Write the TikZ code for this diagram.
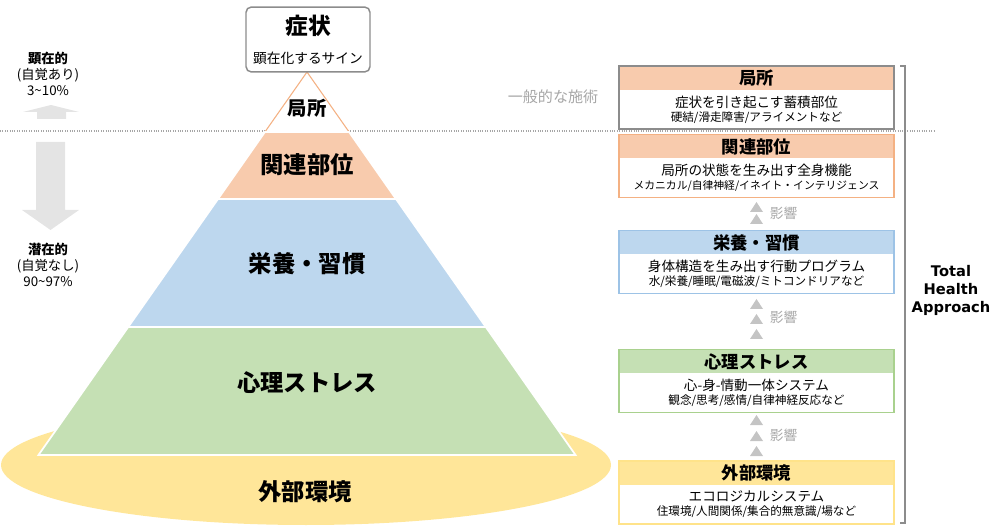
\documentclass[tikz,border=0pt]{standalone}
\usepackage{fontspec}
\setmainfont{Noto Sans CJK JP}
\newfontfamily\latinfont{DejaVu Sans}
\usetikzlibrary{positioning, shapes.geometric}
\definecolor{localFill}{HTML}{F8CBAD}
\definecolor{localLine}{HTML}{F4B183}
\definecolor{habitFill}{HTML}{BDD7EE}
\definecolor{habitLine}{HTML}{9DC3E6}
\definecolor{mindFill}{HTML}{C5E0B4}
\definecolor{mindLine}{HTML}{A9D18E}
\definecolor{envFill}{HTML}{FFE699}
\definecolor{envLine}{HTML}{FFE38A}
\definecolor{frameGray}{HTML}{8C8C8C}
\definecolor{softGray}{HTML}{A6A6A6}
\definecolor{arrowGray}{HTML}{E4E4E4}
\definecolor{triGray}{HTML}{C4C4C4}
\tikzset{
    pyrlabel/.style={font=\bfseries\fontsize{17.5}{19}\selectfont, inner sep=0pt},
    band/.style={draw=white, line width=1.3pt},
    headbox/.style={rectangle, minimum width=206pt, minimum height=17.6pt, inner sep=0pt, font=\bfseries\fontsize{13}{14}\selectfont},
    bodybox/.style={rectangle, minimum width=206pt, minimum height=28.9pt, inner sep=0pt, align=center, fill=white, font=\fontsize{10.2}{10.5}\selectfont},
    sidetext/.style={align=center, font=\fontsize{10}{12.2}\selectfont, inner sep=0pt},
    effect/.style={fill=triGray},
    effectlabel/.style={font=\fontsize{10.3}{11}\selectfont, text=softGray, inner sep=0pt},
    framebox/.style={line width=1.1pt}
}
\newcommand{\subline}[2][8.7]{{\fontsize{#1}{10.5}\selectfont #2}}
\begin{document}
\begin{tikzpicture}[x=0.75pt, y=-0.75pt]
    \useasboundingbox (0,0) rectangle (1000,527);

    % dividing line
    \draw[softGray, densely dotted, line width=0.8pt] (0,131) -- (935,131);

    % base ellipse and pyramid
    \fill[envFill] (306,465) ellipse [x radius=305, y radius=60];
    \draw[localLine, line width=0.8pt, fill=white] (307,72) -- (264.9,132) -- (349.1,132) -- cycle;
    \filldraw[band, fill=localFill] (264.9,132) -- (349.1,132) -- (396,199) -- (218,199) -- cycle;
    \filldraw[band, fill=habitFill] (218,199) -- (396,199) -- (485.8,327) -- (128.2,327) -- cycle;
    \filldraw[band, fill=mindFill] (128.2,327) -- (485.8,327) -- (575.5,455) -- (38.5,455) -- cycle;

    \node (pyrLocal) [pyrlabel, font=\bfseries\fontsize{14.5}{16}\selectfont] at (307,108) {局所};
    \node (pyrRelated) [pyrlabel] at (307,165) {関連部位};
    \node (pyrHabit) [pyrlabel] at (307,264) {栄養・習慣};
    \node (pyrMind) [pyrlabel] at (307,383) {心理ストレス};
    \node (pyrEnv) [pyrlabel] at (305,492) {外部環境};

    % symptom box
    \node (symptom) [rectangle, draw=frameGray, framebox, rounded corners=4pt, fill=white, minimum width=93pt, minimum height=48.7pt] at (308,39.5) {};
    \node (symTitle) [font=\bfseries\fontsize{17}{19}\selectfont, inner sep=0pt] at (308,26) {症状};
    \node (symSub) [font=\fontsize{10.3}{12}\selectfont, inner sep=0pt] at (308,58) {顕在化するサイン};

    % left side
    \fill[arrowGray] (37,119) -- (37,112) -- (23,112) -- (51,105) -- (79,112) -- (66,112) -- (66,119) -- cycle;
    \fill[arrowGray] (36,142) -- (65,142) -- (65,210) -- (79,210) -- (50.5,230) -- (22,210) -- (36,210) -- cycle;
    \node (overt) [sidetext] at (48,74) {\textbf{顕在的}\\(自覚あり)\\3\textasciitilde10\%};
    \node (latent) [sidetext] at (48,265) {\textbf{潜在的}\\(自覚なし)\\90\textasciitilde97\%};
    \node (general) [font=\fontsize{11.3}{13}\selectfont, text=softGray, inner sep=0pt] at (553,97) {一般的な施術};

    % right boxes
    \node (localHead) [headbox, fill=localFill] at (756.5,78) {局所};
    \node (localBody) [bodybox, below=0pt of localHead] {症状を引き起こす蓄積部位\\\subline{硬結/滑走障害/アライメントなど}};
    \draw[frameGray, framebox] (localHead.north west) rectangle (localBody.south east);

    \node (relHead) [headbox, fill=localFill] at (756.5,146.5) {関連部位};
    \node (relBody) [bodybox, below=0pt of relHead] {局所の状態を生み出す全身機能\\\subline[8.1]{メカニカル/自律神経/イネイト・インテリジェンス}};
    \draw[localLine, framebox] (relHead.north west) rectangle (relBody.south east);

    \node (habitHead) [headbox, fill=habitFill] at (756.5,242.5) {栄養・習慣};
    \node (habitBody) [bodybox, below=0pt of habitHead] {身体構造を生み出す行動プログラム\\\subline{水/栄養/睡眠/電磁波/ミトコンドリアなど}};
    \draw[habitLine, framebox] (habitHead.north west) rectangle (habitBody.south east);

    \node (mindHead) [headbox, fill=mindFill] at (756.5,361.5) {心理ストレス};
    \node (mindBody) [bodybox, below=0pt of mindHead] {心-身-情動一体システム\\\subline{観念/思考/感情/自律神経反応など}};
    \draw[mindLine, framebox] (mindHead.north west) rectangle (mindBody.south east);

    \node (envHead) [headbox, fill=envFill] at (756.5,473) {外部環境};
    \node (envBody) [bodybox, below=0pt of envHead] {エコロジカルシステム\\\subline{住環境/人間関係/集合的無意識/場など}};
    \draw[envLine, framebox] (envHead.north west) rectangle (envBody.south east);

    % influence marks
    \foreach \ty in {207,219,304,319,334,420,436,451}
        \fill[effect] (750,\ty+5) -- (763,\ty+5) -- (756.5,\ty-5) -- cycle;
    \node (effect1) [effectlabel] at (783.5,213) {影響};
    \node (effect2) [effectlabel] at (783.5,317) {影響};
    \node (effect3) [effectlabel] at (783.5,435) {影響};

    % bracket
    \draw[frameGray, line width=1.1pt] (900,66) -- (905,66) -- (905,523) -- (900,523);
    \node (total) [align=center, font=\latinfont\bfseries\fontsize{11}{13.5}\selectfont, inner sep=0pt] at (951,290) {Total\\Health\\Approach};
\end{tikzpicture}
\end{document}
